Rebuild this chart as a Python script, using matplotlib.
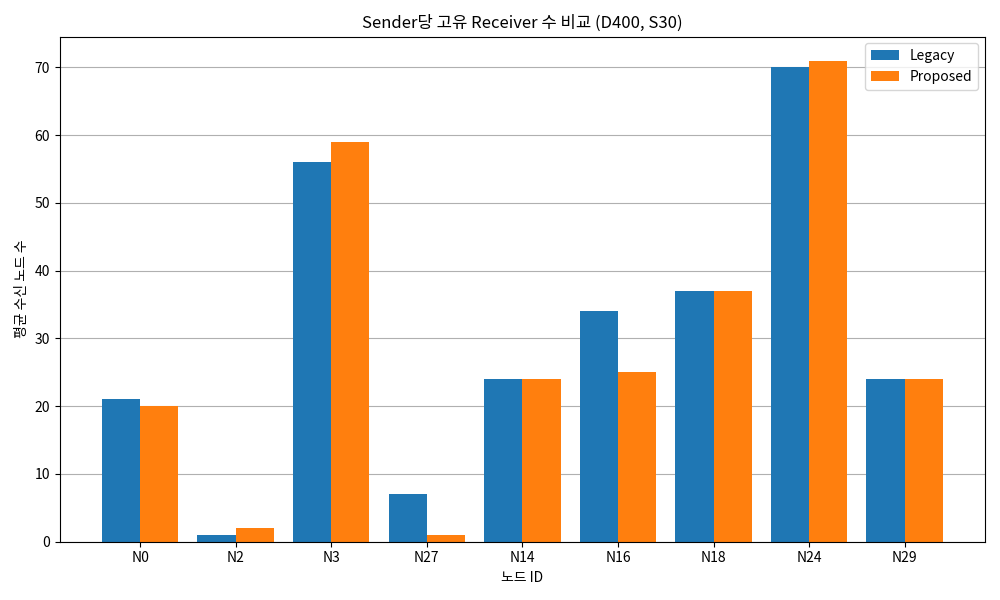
import matplotlib
matplotlib.use('Agg')
import matplotlib.pyplot as plt
import numpy as np

plt.rcParams['font.family'] = ['Noto Sans CJK KR', 'DejaVu Sans']

nodes = ['N0', 'N2', 'N3', 'N27', 'N14', 'N16', 'N18', 'N24', 'N29']
legacy = [21, 1, 56, 7, 24, 34, 37, 70, 24]
proposed = [20, 2, 59, 1, 24, 25, 37, 71, 24]

x = np.arange(len(nodes))
w = 0.4
fig, ax = plt.subplots(figsize=(10, 6), dpi=100)
ax.bar(x - w/2, legacy, w, label='Legacy', color='#1f77b4')
ax.bar(x + w/2, proposed, w, label='Proposed', color='#ff7f0e')
ax.set_xticks(x)
ax.set_xticklabels(nodes)
ax.set_xlabel('노드 ID')
ax.set_ylabel('평균 수신 노드 수')
ax.set_title('Sender당 고유 Receiver 수 비교 (D400, S30)')
ax.yaxis.grid(True)
ax.set_axisbelow(True)
ax.legend(loc='upper right')
plt.tight_layout()
plt.savefig('out.png')
